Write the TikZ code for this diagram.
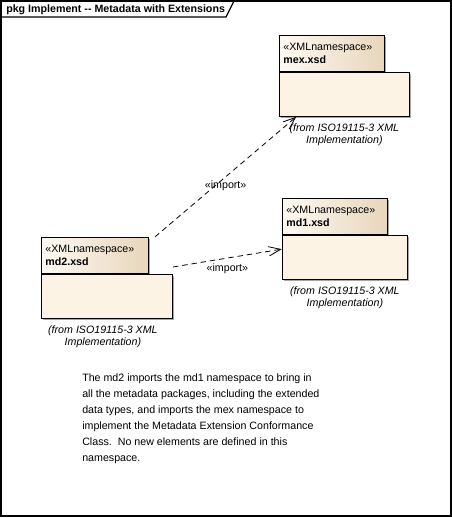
\documentclass[tikz,border=0pt]{standalone}
\usepackage{fontspec}
\setmainfont{Liberation Sans}
\usetikzlibrary{arrows.meta,positioning,shadows,fit}
\definecolor{bodycream}{RGB}{252,243,229}
\definecolor{tabtan}{RGB}{232,214,188}
\definecolor{tablight}{RGB}{253,249,242}

\begin{document}
\begin{tikzpicture}[x=0.75pt,y=-0.75pt]
	\tikzstyle{pkgshadow} = [drop shadow={shadow xshift=1.5pt, shadow yshift=-1.5pt, fill=black!35, opacity=1}]
	\tikzstyle{pkgtab} = [draw=black, line width=0.6pt, left color=tablight, right color=tabtan, pkgshadow, anchor=north west, minimum height=27pt, inner sep=3pt, align=left, font=\fontsize{8}{9.75}\selectfont]
	\tikzstyle{pkgbody} = [draw=black, line width=0.6pt, fill=bodycream, pkgshadow, anchor=north west, minimum height=33pt, inner sep=0pt]
	\tikzstyle{fromlbl} = [align=center, inner sep=1pt, font=\itshape\fontsize{8}{9.5}\selectfont]
	\tikzstyle{implbl} = [inner sep=1pt, font=\fontsize{8}{10}\selectfont]
	\tikzstyle{dep} = [draw=black, line width=0.6pt, dash pattern=on 4pt off 3pt, -{Straight Barb[length=9pt, width=7pt]}]
	\useasboundingbox (0,0) rectangle (452,518);
	% frame and its name tab
	\draw[line width=1.2pt] (1,1) rectangle (451,516);
	\draw[line width=0.9pt] (1,17) -- (226,17) -- (234,1);
	\node[anchor=west, inner sep=0pt, font=\bfseries\fontsize{8}{10}\selectfont] (title) at (6,9.5) {pkg Implement -{}- Metadata with Extensions};
	% packages
		\node[pkgtab, text width=72.75pt] (mextab) at (279,35) {«XMLnamespace»\\\textbf{mex.xsd}};
		\node[pkgbody, minimum width=97.5pt] (mexbody) at (mextab.south west) {};
		\node[fromlbl, below=4pt of mexbody] (mexfrom) {(from ISO19115-3 XML\\Implementation)};
		\node[pkgtab, text width=72.75pt] (mdonetab) at (282,198) {«XMLnamespace»\\\textbf{md1.xsd}};
		\node[pkgbody, minimum width=93.75pt] (mdonebody) at (mdonetab.south west) {};
		\node[fromlbl, below=4pt of mdonebody] (mdonefrom) {(from ISO19115-3 XML\\Implementation)};
		\node[pkgtab, text width=74.25pt] (mdtwotab) at (41,237) {«XMLnamespace»\\\textbf{md2.xsd}};
		\node[pkgbody, minimum width=98.25pt] (mdtwobody) at (mdtwotab.south west) {};
		\node[fromlbl, below=4pt of mdtwobody, xshift=-3pt] (mdtwofrom) {(from ISO19115-3 XML\\Implementation)};
		\node[fit=(mextab)(mexbody), inner sep=0pt] (mex) {};
		\node[fit=(mdonetab)(mdonebody), inner sep=0pt] (mdone) {};
		\node[fit=(mdtwotab)(mdtwobody), inner sep=0pt] (mdtwo) {};
	% imports
	\draw[dep] (mdtwo) -- (mex) node[implbl, pos=0.5, yshift=-6.5pt] (impmex) {«import»};
	\draw[dep] (mdtwo) -- (mdone) node[implbl, pos=0.5, yshift=-8pt] (impmdone) {«import»};
	% note
	\node[anchor=north west, align=left, inner sep=0pt, font=\fontsize{8}{12}\selectfont] (note) at (82,373) {The md2 imports the md1 namespace to bring in\\all the metadata packages, including the extended\\data types, and imports the mex namespace to\\implement the Metadata Extension Conformance\\Class.\ \ No new elements are defined in this\\namespace.};
\end{tikzpicture}
\end{document}
